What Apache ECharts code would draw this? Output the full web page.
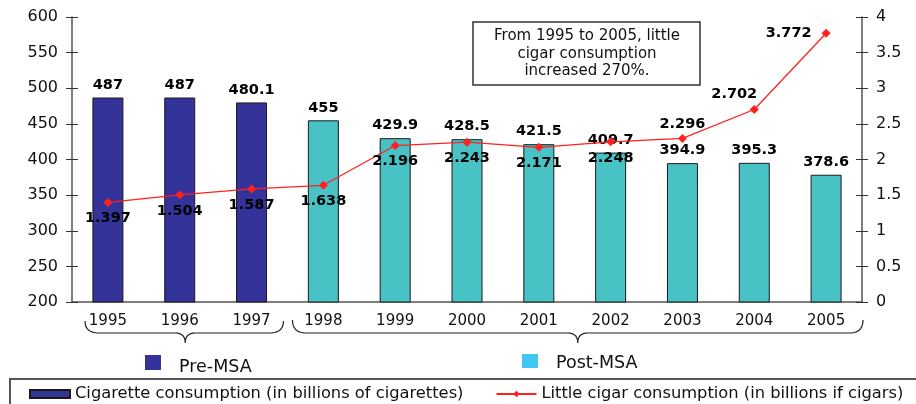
<!DOCTYPE html>
<html><head><meta charset="utf-8">
<script src="https://cdn.jsdelivr.net/npm/echarts@6/dist/echarts.min.js"></script>
<style>html,body{margin:0;padding:0;background:#fff}#c{width:916px;height:404px}</style>
</head><body><div id="c"></div>
<script>
const years = ['1995','1996','1997','1998','1999','2000','2001','2002','2003','2004','2005'];
const cigarettes = [487, 487, 480.1, 455, 429.9, 428.5, 421.5, 409.7, 394.9, 395.3, 378.6];
const littleCigars = [1.397, 1.504, 1.587, 1.638, 2.196, 2.243, 2.171, 2.248, 2.296, 2.702, 3.772];
const preMsaCount = 3;
const leftTicks = {min: 200, max: 600, interval: 50};
const rightTicks = {min: 0, max: 4, interval: 0.5};
const cigName = 'Cigarette consumption (in billions of cigarettes)';
const cigarName = 'Little cigar consumption (in billions if cigars)';
const note = 'From 1995 to 2005, little\ncigar consumption\nincreased 270%.';

const PRE = '#333399', POST = '#48C2C5', RED = '#FF2020';
const F = 'DejaVu Sans';
const axisCol = '#555';

const chart = echarts.init(document.getElementById('c'), null, {renderer: 'canvas'});

const barData = cigarettes.map((v, i) => i < preMsaCount ? v : {value: v, itemStyle: {color: POST}});
const lineLabelCfg = (i) => {
  if (i <= 7) return {position: 'bottom', distance: 4};
  if (i === 8) return {position: 'top', distance: 2};
  if (i === 9) return {position: 'top', distance: 3, offset: [-20, 0]};
  return {position: 'left', distance: 10};
};
const lineData = littleCigars.map((v, i) => ({value: v, label: lineLabelCfg(i)}));

const axisLbl = {color: '#111', fontFamily: F, fontSize: 15};
const dataLbl = {color: '#000', fontFamily: F, fontWeight: 'bold', fontSize: 14.5};
chart.setOption({
  animation: false,
  grid: {left: 72, right: 54, top: 17, bottom: 102},
  xAxis: [
    {type: 'category', data: years, boundaryGap: true,
     axisLine: {lineStyle: {color: axisCol, width: 1.5}},
     axisTick: {interval: 0, length: 4, lineStyle: {color: '#333'}},
     axisLabel: Object.assign({margin: 12, interval: 0}, axisLbl)},
    {type: 'category', data: years, boundaryGap: true, position: 'bottom',
     axisLine: {show: false}, axisLabel: {show: false},
     axisTick: {interval: 0, inside: true, length: 3, lineStyle: {color: '#333'}}}
  ],
  yAxis: [
    {type: 'value', position: 'left', min: leftTicks.min, max: leftTicks.max, interval: leftTicks.interval,
     splitLine: {show: false}, axisLine: {show: true, lineStyle: {color: axisCol, width: 1.5}},
     axisTick: {show: true, length: 6, lineStyle: {color: '#333'}},
     axisLabel: Object.assign({margin: 14}, axisLbl, {fontSize: 16})},
    {type: 'value', position: 'right', min: rightTicks.min, max: rightTicks.max, interval: rightTicks.interval,
     splitLine: {show: false}, axisLine: {show: true, lineStyle: {color: axisCol, width: 1.5}},
     axisTick: {show: true, length: 6, lineStyle: {color: '#333'}},
     axisLabel: Object.assign({margin: 14}, axisLbl, {fontSize: 16})},
    {type: 'value', position: 'left', min: leftTicks.min, max: leftTicks.max, interval: leftTicks.interval,
     splitLine: {show: false}, axisLine: {show: false}, axisLabel: {show: false},
     axisTick: {show: true, inside: true, length: 6, lineStyle: {color: '#333'}}},
    {type: 'value', position: 'right', min: rightTicks.min, max: rightTicks.max, interval: rightTicks.interval,
     splitLine: {show: false}, axisLine: {show: false}, axisLabel: {show: false},
     axisTick: {show: true, inside: true, length: 6, lineStyle: {color: '#333'}}}
  ],
  legend: {
    left: 24, top: 381, itemGap: 32, itemWidth: 40, itemHeight: 8,
    textStyle: {color: '#111', fontFamily: F, fontSize: 16.3},
    data: [
      {name: cigName, icon: 'rect'},
      {name: cigarName}
    ]
  },
  series: [
    {name: cigName, type: 'bar', xAxisIndex: 0, yAxisIndex: 0, data: barData, barWidth: 31,
     itemStyle: {color: PRE, borderColor: '#1a1a1a', borderWidth: 1},
     label: Object.assign({show: true, position: 'top', distance: 5}, dataLbl)},
    {name: cigarName, type: 'line', xAxisIndex: 0, yAxisIndex: 1, data: lineData,
     symbol: 'diamond', symbolSize: 9,
     lineStyle: {color: RED, width: 1.3}, itemStyle: {color: RED},
     label: Object.assign({show: true}, dataLbl)}
  ]
});

// decorations placed from the chart's own scale
const cx = (i) => chart.convertToPixel({xAxisIndex: 0}, years[i]);
const half = (cx(1) - cx(0)) / 2;
function qpts(p0, p1, p2, n) {
  const out = [];
  for (let k = 0; k <= n; k++) {
    const t = k / n, a = (1 - t) * (1 - t), b = 2 * (1 - t) * t, c = t * t;
    out.push([a * p0[0] + b * p1[0] + c * p2[0], a * p0[1] + b * p1[1] + c * p2[1]]);
  }
  return out;
}
function brace(x1, x2, mid, yTop, yMid, yTip) {
  const r = 14;
  return [].concat(
    qpts([x1, yTop], [x1, yMid], [x1 + r, yMid], 10),
    qpts([mid - 10, yMid], [mid, yMid], [mid, yTip], 8),
    qpts([mid, yTip], [mid, yMid], [mid + 10, yMid], 8),
    qpts([x2 - r, yMid], [x2, yMid], [x2, yTop], 10)
  );
}
const preL = cx(0) - half + 13, preR = cx(preMsaCount - 1) + half - 4;
const postL = cx(preMsaCount) - half + 5, postR = cx(years.length - 1) + half + 1;
const preMid = (preL + preR) / 2 + 1, postMid = (postL + postR) / 2;

chart.setOption({
  graphic: [
    {type: 'polyline', shape: {points: brace(preL, preR, preMid, 321, 333, 343)},
     style: {fill: null, stroke: '#222', lineWidth: 1.2}},
    {type: 'polyline', shape: {points: brace(postL, postR, postMid, 320, 333, 343)},
     style: {fill: null, stroke: '#222', lineWidth: 1.2}},
    {type: 'rect', shape: {x: 145, y: 355, width: 16, height: 15}, style: {fill: PRE}},
    {type: 'text', x: 179, y: 367, style: {text: 'Pre-MSA', fill: '#111', font: '17.5px "DejaVu Sans"', verticalAlign: 'middle'}},
    {type: 'rect', shape: {x: 522, y: 354, width: 16, height: 14}, style: {fill: '#40C8F0'}},
    {type: 'text', x: 556, y: 363, style: {text: 'Post-MSA', fill: '#111', font: '17.5px "DejaVu Sans"', verticalAlign: 'middle'}},
    {type: 'rect', shape: {x: 10, y: 379, width: 940, height: 60}, style: {fill: null, stroke: '#555', lineWidth: 2}, z: -1},
    {type: 'rect', shape: {x: 473, y: 22, width: 227, height: 63}, style: {fill: '#fff', stroke: '#333', lineWidth: 1.5}, z: 10},
    {type: 'text', x: 587, y: 54, z: 11,
     style: {text: note, fill: '#111', font: '15px "DejaVu Sans"', align: 'center', verticalAlign: 'middle', lineHeight: 17.5}}
  ]
});
</script>
</body></html>
